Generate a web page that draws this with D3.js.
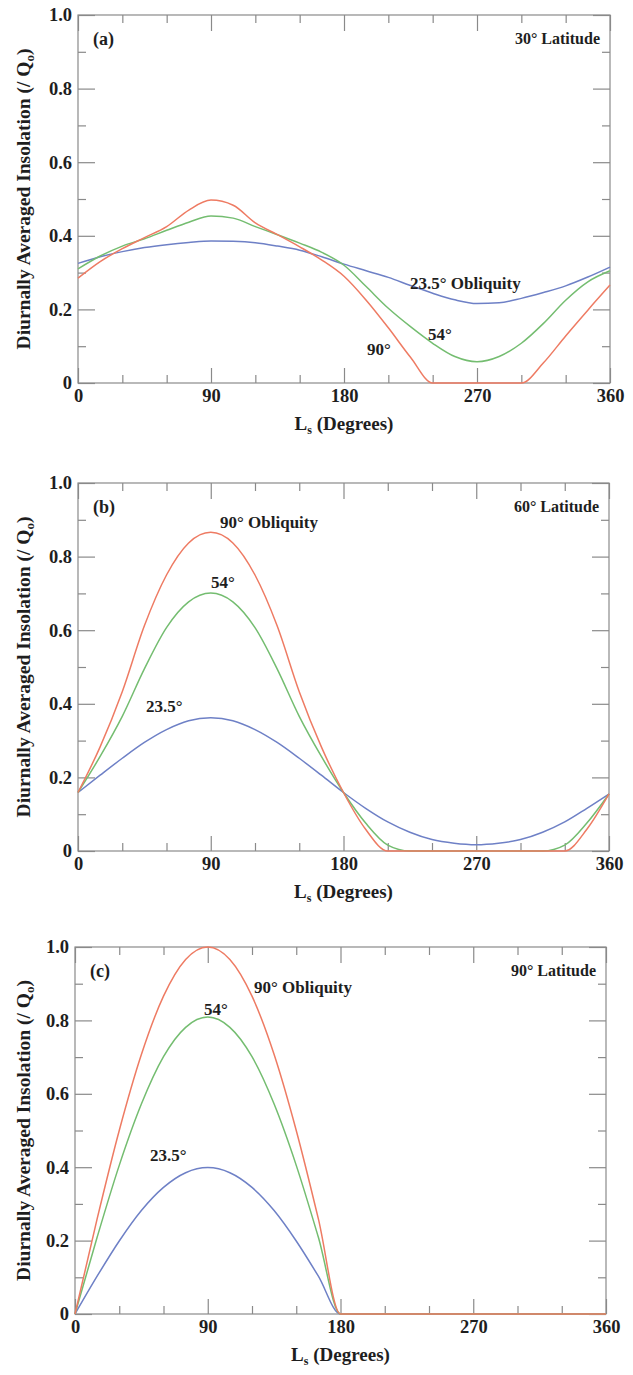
<!DOCTYPE html>
<html><head><meta charset="utf-8">
<script src="https://cdn.jsdelivr.net/npm/d3@7"></script>
<style>
body{margin:0;background:#fff}
svg{display:block}
text{font-family:"Liberation Serif","Times New Roman",serif;fill:#1e1e1e}
</style></head>
<body><svg id="chart" width="633" height="1375"></svg>
<script>
// ---- data ----
const ls = [0,15,30,45,60,75,90,105,120,135,150,165,180,195,210,225,240,255,270,285,300,315,330,345,360];

// (a) 30° latitude
const a_obl235 = [0.325,0.343,0.357,0.368,0.376,0.382,0.386,0.385,0.381,0.372,0.361,0.343,0.323,0.305,0.287,0.265,0.244,0.226,0.216,0.218,0.230,0.246,0.264,0.288,0.315];
const a_obl54  = [0.310,0.345,0.372,0.392,0.415,0.437,0.454,0.448,0.425,0.403,0.380,0.355,0.320,0.262,0.203,0.153,0.108,0.072,0.058,0.072,0.108,0.162,0.225,0.275,0.305];
const a_obl90  = [0.285,0.330,0.365,0.395,0.425,0.470,0.497,0.483,0.435,0.403,0.370,0.334,0.290,0.225,0.150,0.070,0,0,0,0,0,0.055,0.128,0.198,0.266];

// (b) 60° latitude
const b_obl235 = [0.159,0.206,0.252,0.295,0.330,0.354,0.362,0.354,0.330,0.295,0.252,0.206,0.159,0.116,0.079,0.051,0.031,0.021,0.017,0.021,0.031,0.051,0.079,0.116,0.155];
const b_obl54  = [0.159,0.257,0.366,0.495,0.607,0.677,0.701,0.677,0.607,0.495,0.366,0.257,0.159,0.076,0.016,0,0,0,0,0,0,0,0.016,0.076,0.155];
const b_obl90  = [0.159,0.283,0.433,0.612,0.750,0.837,0.866,0.837,0.750,0.612,0.433,0.283,0.159,0.059,0,0,0,0,0,0,0,0,0,0.059,0.155];

// (c) 90° latitude
const c_obl235 = [0,0.103,0.199,0.282,0.345,0.385,0.399,0.385,0.345,0.282,0.199,0.103,0,0,0,0,0,0,0,0,0,0,0,0,0];
const c_obl54  = [0,0.209,0.405,0.572,0.701,0.781,0.809,0.781,0.701,0.572,0.405,0.209,0,0,0,0,0,0,0,0,0,0,0,0,0];
const c_obl90  = [0,0.259,0.500,0.707,0.866,0.966,1.000,0.966,0.866,0.707,0.500,0.259,0,0,0,0,0,0,0,0,0,0,0,0,0];

const panelTags = ["(a)","(b)","(c)"];
const latitudeLabels = ["30° Latitude","60° Latitude","90° Latitude"];
const xMajorTicks = [0,90,180,270,360];
const xMinorTicks = [30,60,120,150,210,240,300,330];
const yMajorTicks = [0,0.2,0.4,0.6,0.8,1.0];
const yMinorTicks = [0.1,0.3,0.5,0.7,0.9];
const yTickLabels = ["0","0.2","0.4","0.6","0.8","1.0"];
const xTickLabels = ["0","90","180","270","360"];
const yTitle = "Diurnally Averaged Insolation (/ Q";

// ---- layout ----
const colors = {obl235:"#6e80c6", obl54:"#74bd70", obl90:"#ee7b63"};
const panels = [
  {L:78,R:610,T:15,B:383, series:[a_obl235,a_obl54,a_obl90],
   labels:[{t:"23.5° Obliquity",x:410,y:289},{t:"54°",x:428,y:340},{t:"90°",x:367,y:355}]},
  {L:78,R:609,T:483,B:851, series:[b_obl235,b_obl54,b_obl90],
   labels:[{t:"90° Obliquity",x:220,y:528},{t:"54°",x:211,y:588},{t:"23.5°",x:146,y:712}]},
  {L:75,R:606,T:947,B:1314, series:[c_obl235,c_obl54,c_obl90],
   labels:[{t:"90° Obliquity",x:254,y:993},{t:"54°",x:204,y:1015},{t:"23.5°",x:150,y:1161}]}
];

const svg = d3.select("#chart");
const axisColor = "#8a8a8a";

panels.forEach((p,i)=>{
  const g = svg.append("g");
  const x = d3.scaleLinear().domain([0,360]).range([p.L,p.R]);
  const y = d3.scaleLinear().domain([0,1]).range([p.B,p.T]);

  // frame
  g.append("rect").attr("x",p.L).attr("y",p.T).attr("width",p.R-p.L).attr("height",p.B-p.T)
    .attr("fill","none").attr("stroke",axisColor).attr("stroke-width",1.2);

  const styleAxis = sel => { sel.select(".domain").remove(); sel.selectAll("line").attr("stroke",axisColor).attr("stroke-width",1.2); sel.selectAll("text").attr("fill","#1e1e1e").style("font-family",'"Liberation Serif",serif'); };

  // bottom major with labels
  g.append("g").attr("transform",`translate(0,${p.B})`)
    .call(d3.axisBottom(x).tickValues(xMajorTicks).tickSizeInner(-15).tickSizeOuter(0).tickPadding(6)
      .tickFormat((d,k)=>xTickLabels[k]))
    .call(styleAxis)
    .selectAll("text").style("font-size","18.5px").style("font-weight","bold");
  g.append("g").attr("transform",`translate(0,${p.B})`)
    .call(d3.axisBottom(x).tickValues(xMinorTicks).tickSizeInner(-8).tickSizeOuter(0).tickFormat(""))
    .call(styleAxis);
  // top ticks
  g.append("g").attr("transform",`translate(0,${p.T})`)
    .call(d3.axisTop(x).tickValues(xMajorTicks).tickSizeInner(-16).tickSizeOuter(0).tickFormat(""))
    .call(styleAxis);
  g.append("g").attr("transform",`translate(0,${p.T})`)
    .call(d3.axisTop(x).tickValues(xMinorTicks).tickSizeInner(-8).tickSizeOuter(0).tickFormat(""))
    .call(styleAxis);
  // left
  g.append("g").attr("transform",`translate(${p.L},0)`)
    .call(d3.axisLeft(y).tickValues(yMajorTicks).tickSizeInner(-17).tickSizeOuter(0).tickPadding(6)
      .tickFormat((d,k)=>yTickLabels[k]))
    .call(styleAxis)
    .selectAll("text").style("font-size","18.5px").style("font-weight","bold");
  g.append("g").attr("transform",`translate(${p.L},0)`)
    .call(d3.axisLeft(y).tickValues(yMinorTicks).tickSizeInner(-8).tickSizeOuter(0).tickFormat(""))
    .call(styleAxis);
  // right
  g.append("g").attr("transform",`translate(${p.R},0)`)
    .call(d3.axisRight(y).tickValues(yMajorTicks).tickSizeInner(-17).tickSizeOuter(0).tickFormat(""))
    .call(styleAxis);
  g.append("g").attr("transform",`translate(${p.R},0)`)
    .call(d3.axisRight(y).tickValues(yMinorTicks).tickSizeInner(-8).tickSizeOuter(0).tickFormat(""))
    .call(styleAxis);

  // curves
  const line = d3.line().x((d,k)=>x(ls[k])).y(d=>y(d)).curve(d3.curveMonotoneX);
  const cols = [colors.obl235, colors.obl54, colors.obl90];
  p.series.forEach((s,k)=>{
    g.append("path").datum(s).attr("d",line).attr("fill","none")
      .attr("stroke",cols[k]).attr("stroke-width",1.5);
  });

  // panel tag and latitude
  g.append("text").attr("x",p.L+15).attr("y",p.T+30).style("font-size","18px").style("font-weight","bold").text(panelTags[i]);
  g.append("text").attr("x",p.R-10).attr("y",p.T+29).attr("text-anchor","end").style("font-size","16px").style("font-weight","bold").text(latitudeLabels[i]);

  // curve labels
  p.labels.forEach(l=>{
    g.append("text").attr("x",l.x).attr("y",l.y).style("font-size","17px").style("font-weight","bold").text(l.t);
  });

  // y title
  const cy = (p.T+p.B)/2;
  const yt = g.append("text").attr("transform",`translate(30,${cy}) rotate(-90)`).attr("text-anchor","middle")
    .style("font-size","19.5px").style("font-weight","bold");
  yt.append("tspan").text(yTitle);
  yt.append("tspan").attr("dy",4).style("font-size","13px").text("o");
  yt.append("tspan").attr("dy",-4).text(")");

  // x title
  const xt = g.append("text").attr("x",(p.L+p.R)/2).attr("y",p.B+47).attr("text-anchor","middle")
    .style("font-size","19px").style("font-weight","bold");
  xt.append("tspan").text("L");
  xt.append("tspan").attr("dy",4).style("font-size","12px").text("s");
  xt.append("tspan").attr("dy",-4).text(" (Degrees)");
});
</script></body></html>
